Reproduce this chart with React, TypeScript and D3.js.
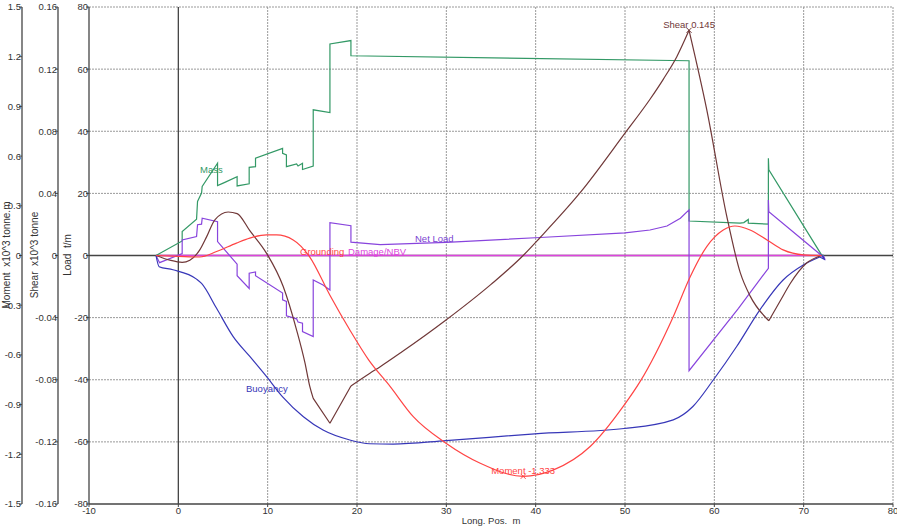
import React from 'react';
import * as d3 from 'd3';

const W = 897;
const H = 529;

// tick values
const xTicks = [-10, 0, 10, 20, 30, 40, 50, 60, 70, 80];
const loadTicks = [-80, -60, -40, -20, 0, 20, 40, 60, 80];
const shearTicks = [-0.16, -0.12, -0.08, -0.04, 0, 0.04, 0.08, 0.12, 0.16];
const momentTicks = [-1.5, -1.2, -0.9, -0.6, -0.3, 0, 0.3, 0.6, 0.9, 1.2, 1.5];

// Mass, t/m
const massX = [-2.5, 0.43, 0.43, 2.04, 2.15, 2.6, 2.67, 4.39, 4.39, 5.02, 6.58, 6.58, 7.93, 7.93, 8.64, 8.64, 11.67, 11.67, 12.1, 12.1, 13.24, 13.4, 13.9, 13.9, 15.1, 15.1, 16.97, 16.97, 19.32, 19.32, 57.17, 57.17, 62.88, 63.3, 63.8, 63.8, 66.05, 66.05, 66.1, 72.0, 72.3];
const massY = [0, 4.7, 7.7, 11.7, 17.4, 20.1, 22.2, 29.7, 22.5, 23.3, 25.4, 22.4, 23.1, 28.4, 28.6, 31.3, 34.5, 32.9, 32.4, 28.6, 29.5, 28.8, 29.7, 27.7, 28.8, 46.9, 46.0, 68.1, 69.2, 64.3, 62.7, 11.1, 10.4, 10.6, 11.6, 10.4, 10.1, 31.3, 27.6, 0.2, 0];

// Net load, t/m
const netX = [-2.5, -2.1, 0.43, 0.43, 2.04, 2.15, 2.6, 2.67, 4.39, 4.39, 6.58, 6.58, 7.93, 7.93, 8.64, 8.64, 11.67, 11.67, 12.1, 12.1, 13.24, 13.4, 13.9, 13.9, 15.1, 15.1, 16.2, 16.97, 16.97, 19.32, 19.32, 22.6, 30, 40.5, 50, 52.8, 54.7, 56.2, 57.17, 57.17, 62.7, 66.05, 66.05, 66.1, 72.0, 72.4, 72.2];
const netY = [0, -2.3, 0.6, 5.0, 6.1, 9.9, 10.1, 12.0, 10.9, 4.5, -2.8, -6.5, -10.6, -5.7, -5.3, -6.5, -12.1, -14.3, -14.8, -19.4, -20.4, -21.4, -21.8, -24.5, -26.1, -7.9, -9.5, -11.1, 10.6, 9.6, 4.3, 3.5, 4.2, 5.8, 7.3, 8.2, 9.5, 12.0, 14.7, -37.1, -17.0, -4.1, 17.9, 14.1, 0, -1.4, 0];

// Buoyancy, t/m (last three points are the small hook at the aft end)
const buoyX = [-2.5, -2.15, -0.6, 2.04, 2.6, 4.28, 6.14, 8.0, 9.88, 11.7, 14.0, 16.2, 19.2, 21.4, 24.05, 29.96, 39.9, 49.9, 55.4, 57.6, 59.9, 62.5, 65.1, 67.7, 70.0, 71.8, 72.3, 72.1];
const buoyY = [0, -3.6, -4.6, -7.6, -9.0, -17.0, -26.1, -32.5, -39.0, -45.6, -51.9, -56.2, -59.4, -60.6, -60.7, -59.6, -57.4, -55.7, -52.9, -48.6, -40.0, -29.3, -17.5, -7.9, -3.0, -0.5, -1.2, 0];

// Shear, x10^3 tonne
const shearX = [-2.5, -0.95, 0.43, 1.29, 2.4, 3.16, 4.09, 5.58, 6.58, 8.0, 9.88, 11.74, 13.24, 14.17, 14.7, 15.1, 16.97, 19.32, 21.45, 22.6, 25, 30, 35, 38.6, 40.5, 45, 50, 52.8, 54.3, 55.8, 57.17, 59.15, 61.4, 62.9, 64.0, 66.1, 67.4, 68.5, 70.3, 72.0];
const shearY = [0, -0.003, -0.0044, -0.003, 0.0036, 0.012, 0.023, 0.028, 0.027, 0.016, 0.0014, -0.02, -0.048, -0.069, -0.084, -0.092, -0.108, -0.084, -0.0758, -0.0716, -0.0622, -0.0414, -0.0186, 0, 0.0116, 0.0406, 0.0788, 0.1006, 0.1136, 0.128, 0.145, 0.094, 0.025, -0.011, -0.026, -0.042, -0.029, -0.018, -0.005, 0];
// positions where the shear curve has a corner
const shearCorners = [15.1, 16.97, 19.32, 57.17, 66.1];

// Moment, x10^3 tonne.m
const momentX = [-2.5, 0, 2.4, 4.28, 6.5, 8.0, 9.88, 11.0, 12.86, 14.7, 16.97, 19.2, 21.3, 23.7, 26.3, 29.96, 33.8, 38.6, 42.0, 46.1, 49.8, 51.7, 55.4, 57.3, 59.15, 61.0, 62.3, 64.0, 65.9, 67.7, 70.0, 72.0];
const momentY = [0, -0.005, -0.009, 0.024, 0.075, 0.105, 0.124, 0.124, 0.094, -0.008, -0.24, -0.45, -0.63, -0.79, -0.973, -1.133, -1.254, -1.333, -1.294, -1.153, -0.911, -0.76, -0.369, -0.128, 0.054, 0.154, 0.178, 0.154, 0.094, 0.034, 0.004, 0];

// Grounding damage / NBV
const groundX = [-2.5, 72.2];
const groundY = [0, 0];

const FONT = 'Arial, "Liberation Sans", sans-serif';

export default function App() {
  const x = d3.scaleLinear().domain([-10, 80]).range([89, 893]);
  const yLoad = d3.scaleLinear().domain([-80, 80]).range([504, 7]);
  const yShear = d3.scaleLinear().domain([-0.16, 0.16]).range([504, 7]);
  const yMoment = d3.scaleLinear().domain([-1.5, 1.5]).range([504, 7]);

  const zip = (xs: number[], ys: number[]) => xs.map((v, i) => [v, ys[i]] as [number, number]);

  const lineLoad = d3.line<[number, number]>().x(d => x(d[0])).y(d => yLoad(d[1]));
  const smoothLoad = d3.line<[number, number]>().x(d => x(d[0])).y(d => yLoad(d[1])).curve(d3.curveMonotoneX);
  const smoothShear = d3.line<[number, number]>().x(d => x(d[0])).y(d => yShear(d[1])).curve(d3.curveMonotoneX);
  const smoothMoment = d3.line<[number, number]>().x(d => x(d[0])).y(d => yMoment(d[1])).curve(d3.curveMonotoneX);

  const buoyPts = zip(buoyX, buoyY);
  const buoyPath = (smoothLoad(buoyPts.slice(0, -2)) ?? '') + (lineLoad(buoyPts.slice(-3)) ?? '');

  const shearPts = zip(shearX, shearY);
  const cut = [0, ...shearCorners.map(c => shearX.indexOf(c)), shearX.length - 1];
  const shearPath = d3.pairs(cut).map(([a, b]) => smoothShear(shearPts.slice(a, b + 1)) ?? '').join('');

  const fmt = (v: number) => String(+v.toFixed(2));

  const top = yLoad(80);
  const bottom = yLoad(-80);
  const left = x(-10);
  const right = x(80);

  // peak markers
  const shearMaxI = d3.maxIndex(shearY);
  const momentMinI = d3.minIndex(momentY);
  const spx = x(shearX[shearMaxI]);
  const spy = yShear(shearY[shearMaxI]);
  const mpx = x(momentX[momentMinI]);
  const mpy = yMoment(momentY[momentMinI]);

  const axisColor = '#444';
  const textColor = '#333';

  return (
    <div style={{ position: 'absolute', left: 0, top: 0 }}>
      <svg width={W} height={H} style={{ display: 'block', background: '#fff', fontFamily: FONT }}>
        {/* grid */}
        {xTicks.filter(t => t !== -10 && t !== 0).map(t => (
          <line key={'gx' + t} x1={x(t)} x2={x(t)} y1={top} y2={bottom} stroke="#999" strokeDasharray="2,1" />
        ))}
        {loadTicks.filter(t => t !== -80 && t !== 0).map(t => (
          <line key={'gy' + t} x1={left} x2={right} y1={yLoad(t)} y2={yLoad(t)} stroke="#999" strokeDasharray="2,1" />
        ))}
        {/* zero lines */}
        <line x1={x(0)} x2={x(0)} y1={top} y2={bottom} stroke={axisColor} strokeWidth={1.3} />
        <line x1={left} x2={right} y1={yLoad(0)} y2={yLoad(0)} stroke={axisColor} strokeWidth={1.3} />

        {/* vertical axes */}
        {[
          { ax: 22, scale: yMoment, ticks: momentTicks },
          { ax: 58, scale: yShear, ticks: shearTicks },
          { ax: left, scale: yLoad, ticks: loadTicks },
        ].map((a, k) => (
          <g key={'ax' + k}>
            <line x1={a.ax} x2={a.ax} y1={top} y2={bottom} stroke={axisColor} strokeWidth={1.3} />
            {a.ticks.map(t => (
              <g key={t}>
                <line x1={a.ax - 3} x2={a.ax} y1={a.scale(t)} y2={a.scale(t)} stroke={axisColor} />
                <text x={a.ax - 1} y={a.scale(t) + 3.4} textAnchor="end" fontSize={9.5} fill={textColor}>{fmt(t)}</text>
              </g>
            ))}
          </g>
        ))}
        {/* bottom axis */}
        <line x1={left} x2={right} y1={bottom} y2={bottom} stroke={axisColor} strokeWidth={1.3} />
        {xTicks.map(t => (
          <g key={'xt' + t}>
            <line x1={x(t)} x2={x(t)} y1={bottom} y2={bottom + 3} stroke={axisColor} />
            <text x={x(t)} y={514} textAnchor="middle" fontSize={9.5} fill={textColor}>{t}</text>
          </g>
        ))}

        {/* axis titles */}
        <text transform="translate(10,255) rotate(-90)" textAnchor="middle" fontSize={10} fill={textColor} style={{ whiteSpace: 'pre' }}>{'Moment  x10^3 tonne.m'}</text>
        <text transform="translate(38,255) rotate(-90)" textAnchor="middle" fontSize={10} fill={textColor} style={{ whiteSpace: 'pre' }}>{'Shear  x10^3 tonne'}</text>
        <text transform="translate(71,255) rotate(-90)" textAnchor="middle" fontSize={10} fill={textColor} style={{ whiteSpace: 'pre' }}>{'Load  t/m'}</text>
        <text x={(left + right) / 2} y={524} textAnchor="middle" fontSize={9.5} fill={textColor} style={{ whiteSpace: 'pre' }}>{'Long. Pos.  m'}</text>

        {/* series */}
        <path d={lineLoad(zip(groundX, groundY)) ?? ''} fill="none" stroke="#dd44dd" strokeWidth={1.3} />
        <path d={lineLoad(zip(massX, massY)) ?? ''} fill="none" stroke="#339966" strokeWidth={1.2} />
        <path d={lineLoad(zip(netX, netY)) ?? ''} fill="none" stroke="#8844dd" strokeWidth={1.2} />
        <path d={buoyPath} fill="none" stroke="#3737b8" strokeWidth={1.2} />
        <path d={shearPath} fill="none" stroke="#703838" strokeWidth={1.2} />
        <path d={smoothMoment(zip(momentX, momentY)) ?? ''} fill="none" stroke="#ff4444" strokeWidth={1.2} />

        {/* markers */}
        <path d={`M${spx - 2.5},${spy - 2.5}L${spx + 2.5},${spy + 2.5}M${spx - 2.5},${spy + 2.5}L${spx + 2.5},${spy - 2.5}`} stroke="#703838" />
        <path d={`M${mpx - 2.5},${mpy - 2.5}L${mpx + 2.5},${mpy + 2.5}M${mpx - 2.5},${mpy + 2.5}L${mpx + 2.5},${mpy - 2.5}`} stroke="#ff4444" />

        {/* labels */}
        <text x={200} y={173} fontSize={9.5} fill="#339966">Mass</text>
        <text x={415} y={241.5} fontSize={9.5} fill="#7a3fd0">Net Load</text>
        <text x={246} y={391.5} fontSize={9.5} fill="#3737b8">Buoyancy</text>
        <text x={300} y={254.5} fontSize={9.5} fill="#ff4444">Grounding</text>
        <text x={348} y={254.5} fontSize={9.5} fill="#dd44dd">Damage/NBV</text>
        <text x={spx} y={spy - 2} textAnchor="middle" fontSize={9.5} fill="#703838">Shear {shearY[shearMaxI]}</text>
        <text x={mpx} y={mpy - 2} textAnchor="middle" fontSize={9.5} fill="#ff4444">Moment {momentY[momentMinI]}</text>
      </svg>
    </div>
  );
}
